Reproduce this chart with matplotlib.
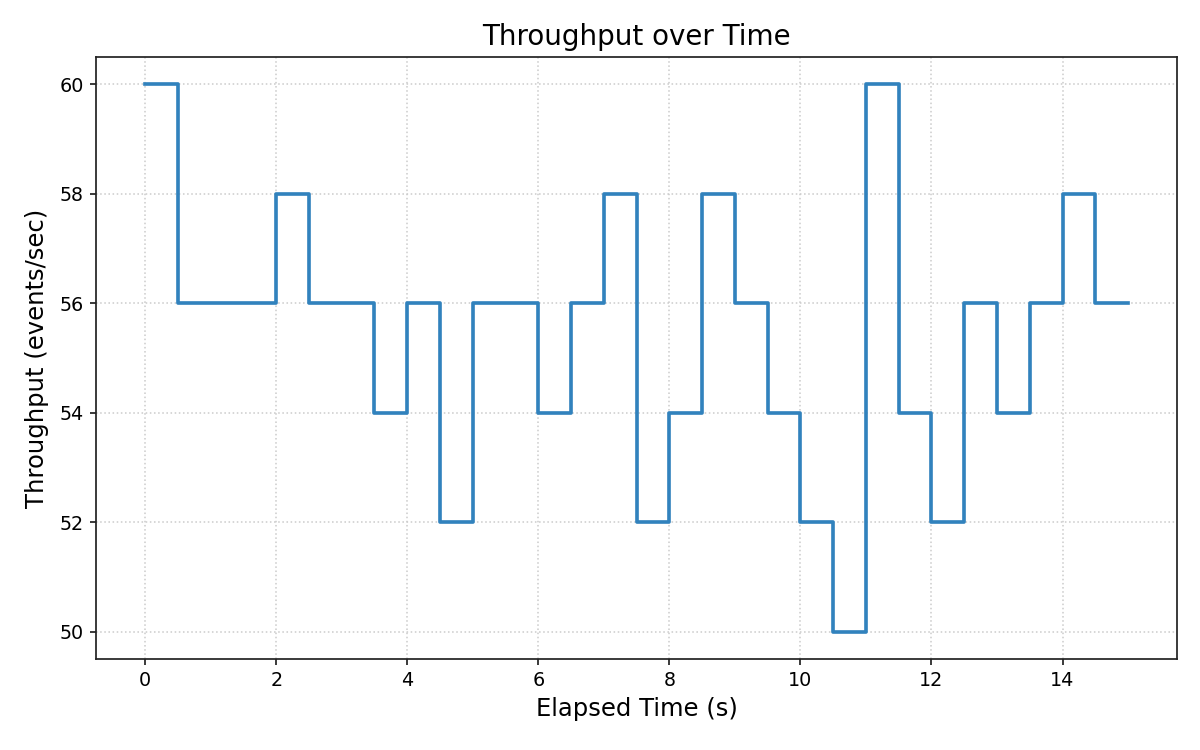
import matplotlib
matplotlib.use("Agg")
import matplotlib.pyplot as plt
import numpy as np

time_s = [0, 0.5, 1, 1.5, 2, 2.5, 3, 3.5, 4, 4.5, 5, 5.5, 6, 6.5, 7, 7.5,
          8, 8.5, 9, 9.5, 10, 10.5, 11, 11.5, 12, 12.5, 13, 13.5, 14, 14.5, 15]
throughput = [60, 56, 56, 56, 58, 56, 56, 54, 56, 52, 56, 56, 54, 56, 58, 52,
              54, 58, 56, 54, 52, 50, 60, 54, 52, 56, 54, 56, 58, 56, 56]

fig, ax = plt.subplots(figsize=(9.6, 6), dpi=125)
ax.step(time_s, throughput, where='post', color='#3182bd', linewidth=2.1)
ax.set_title("Throughput over Time", fontsize=16, pad=7)
ax.set_xlabel("Elapsed Time (s)", fontsize=14)
ax.set_ylabel("Throughput (events/sec)", fontsize=14, labelpad=6)
ax.tick_params(labelsize=11, width=1, color='#222222')
for s in ax.spines.values():
    s.set_linewidth(1.0)
    s.set_color('#222222')
ax.grid(True, linestyle=':', color='#cccccc', linewidth=0.9)
ax.set_axisbelow(True)
fig.subplots_adjust(left=0.08, right=0.981, top=0.924, bottom=0.121)
fig.savefig("out.png", dpi=125)
